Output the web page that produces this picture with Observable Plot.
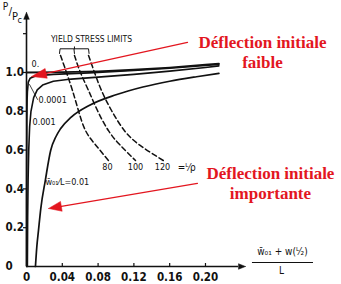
<!DOCTYPE html>
<html>
<head>
<meta charset="utf-8">
<script src="https://cdn.jsdelivr.net/npm/d3@7"></script>
<script src="https://cdn.jsdelivr.net/npm/@observablehq/plot@0.6"></script>
<style>
  html, body { margin: 0; padding: 0; background: #fff; }
</style>
</head>
<body>
<div id="chart"></div>
<script>
// Load ratio P/Pc against total mid-span deflection (w01 + w(L/2)) / L
// for several initial imperfections w01/L, with yield-stress limits.

// initial imperfection w01/L = 0 (perfect column)
const imperf0 = [[0, 1.0], [0.04, 1.002], [0.08, 1.006], [0.12, 1.014], [0.16, 1.025], [0.2, 1.04], [0.215, 1.046]];
// w01/L = 0.0001
const imperf00001 = [[0.0001, 0], [0.00013, 0.3], [0.0002, 0.5], [0.0004, 0.75], [0.0007, 0.86], [0.001, 0.9], [0.002, 0.95], [0.004, 0.97], [0.01, 0.982], [0.03, 0.99], [0.07, 0.998], [0.12, 1.01], [0.16, 1.022], [0.2, 1.036], [0.215, 1.042]];
// w01/L = 0.001
const imperf0001 = [[0.001, 0], [0.0013, 0.25], [0.0018, 0.45], [0.0025, 0.6], [0.0035, 0.72], [0.005, 0.8], [0.008, 0.87], [0.012, 0.91], [0.018, 0.935], [0.03, 0.955], [0.05, 0.966], [0.08, 0.976], [0.12, 0.99], [0.16, 1.007], [0.2, 1.026], [0.215, 1.034]];
// w01/L = 0.01
const imperf001 = [[0.01, 0], [0.0115, 0.1], [0.0134, 0.186], [0.016, 0.3], [0.021, 0.443], [0.027, 0.598], [0.033, 0.67], [0.038, 0.71], [0.05, 0.77], [0.07, 0.83], [0.1, 0.885], [0.13, 0.925], [0.16, 0.955], [0.19, 0.978], [0.215, 0.995]];

// yield stress limits for slenderness L/rho = 80, 100, 120
const yield80 = [[0.038, 1.088], [0.0447, 1.0], [0.0514, 0.907], [0.058, 0.804], [0.066, 0.70], [0.0777, 0.624], [0.0916, 0.546]];
const yield100 = [[0.0536, 1.088], [0.0603, 1.0], [0.0693, 0.907], [0.0793, 0.804], [0.0916, 0.70], [0.105, 0.624], [0.1218, 0.546]];
const yield120 = [[0.0693, 1.088], [0.076, 1.0], [0.0838, 0.907], [0.095, 0.804], [0.1095, 0.70], [0.127, 0.624], [0.153, 0.546]];
const slenderness = ["80", "100", "120"];
const slendernessLabelAt = [[0.0905, 0.51], [0.1218, 0.51], [0.152, 0.51]];

// ticks
const xTicks = [0, 0.04, 0.08, 0.12, 0.16, 0.20];
const xTickLabels = ["0", "0.04", "0.08", "0.12", "0.16", "0.20"];
const yTicks = [0, 0.2, 0.4, 0.6, 0.8, 1.0];
const yTickLabels = ["0", "0.2", "0.4", "0.6", "0.8", "1.0"];
const yTickMarks = [0.2, 0.4, 0.6, 0.8, 1.0, 1.2];

// scale extents
const xMax = 0.352, yMax = 1.371;
const xAxisEnd = 0.2447, yAxisEnd = 1.31;

// annotation arrows: [tail, tip]
const arrowFaible = [[0.1799, 1.1546], [0.0056, 0.979]];
const arrowImportante = [[0.191, 0.428], [0.0246, 0.299]];
const textFaible = [["Déflection initiale", 0.2637, 1.1546], ["faible", 0.2637, 1.0515]];
const textImportante = [["Déflection initiale", 0.2726, 0.479], ["importante", 0.2726, 0.376]];

const W = 341, H = 284, mL = 26, mR = 0, mT = 0, mB = 18;
const red = "#e3161f";
const ink = "#111";

// pixel-space helpers for building arrowheads in data units
const sx = d3.scaleLinear([0, xMax], [mL, W - mR]);
const sy = d3.scaleLinear([0, yMax], [H - mB, mT]);
function arrowHead(tail, tip, len, half) {
  const x0 = sx(tail[0]), y0 = sy(tail[1]), x1 = sx(tip[0]), y1 = sy(tip[1]);
  const d = Math.hypot(x1 - x0, y1 - y0), ux = (x1 - x0) / d, uy = (y1 - y0) / d;
  const bx = x1 - ux * len, by = y1 - uy * len;
  const pts = [[x1, y1], [bx - uy * half, by + ux * half], [bx + uy * half, by - ux * half], [x1, y1]];
  return {
    head: pts.map(([px, py]) => [sx.invert(px), sy.invert(py)]),
    base: [sx.invert(bx), sy.invert(by)]
  };
}
const headF = arrowHead(arrowFaible[0], arrowFaible[1], 15, 5);
const headI = arrowHead(arrowImportante[0], arrowImportante[1], 13, 5);
const headY = arrowHead([0, 0], [0, yAxisEnd], 7, 2.8);
const headX = arrowHead([0, 0], [xAxisEnd, 0], 7, 2.8);

const dx3 = 3 / (sx(1) - sx(0));   // 3px in x data units
const dy3 = 3 / (sy(0) - sy(1));   // 3px in y data units

const tickFont = "DejaVu Sans Condensed, Liberation Sans Narrow, DejaVu Sans, sans-serif";
const lbl = {fontFamily: tickFont, fill: ink};
const tickLbl = {fontFamily: tickFont, fill: ink, fontWeight: "bold", fontSize: 11.5};

const chart = Plot.plot({
  width: W, height: H,
  marginLeft: mL, marginRight: mR, marginTop: mT, marginBottom: mB,
  x: {domain: [0, xMax], axis: null},
  y: {domain: [0, yMax], axis: null},
  style: {background: "#fff", fontFamily: "DejaVu Sans, sans-serif"},
  marks: [
    // axes
    Plot.ruleX([0], {y1: 0, y2: headY.base[1], stroke: ink, strokeWidth: 1.6}),
    Plot.line(headY.head, {fill: ink, stroke: ink, strokeWidth: 0.5}),
    Plot.ruleY([0], {x1: 0, x2: headX.base[0], stroke: ink, strokeWidth: 1.6}),
    Plot.line(headX.head, {fill: ink, stroke: ink, strokeWidth: 0.5}),
    Plot.ruleY(yTickMarks, {x1: -dx3, x2: 0, stroke: ink, strokeWidth: 1.2}),
    Plot.ruleX(xTicks.slice(1), {y1: 0, y2: dy3, stroke: ink, strokeWidth: 1.2}),
    Plot.text(xTicks, {x: d => d, y: 0, dy: 11, text: (d, i) => xTickLabels[i], ...tickLbl}),
    Plot.text(yTicks, {x: 0, y: d => d, dx: -21, text: (d, i) => yTickLabels[i], textAnchor: "start", ...tickLbl}),

    // P/Pc
    Plot.text(["P"], {x: -0.0235, y: 1.34, fontSize: 10, ...lbl}),
    Plot.text(["/"], {x: -0.018, y: 1.315, fontSize: 11, ...lbl}),
    Plot.text(["P"], {x: -0.0128, y: 1.29, fontSize: 11, ...lbl}),
    Plot.text(["c"], {x: -0.0075, y: 1.27, fontSize: 9, ...lbl}),

    // x-axis quantity
    Plot.text(["w̄₀₁ + w(ᴸ⁄₂)"], {x: 0.286, y: 0.074, fontSize: 10, ...lbl}),
    Plot.ruleY([0.0206], {x1: 0.2525, x2: 0.3207, stroke: ink, strokeWidth: 1}),
    Plot.text(["L"], {x: 0.285, y: -0.022, fontSize: 10, ...lbl}),

    // load–deflection curves
    Plot.line(imperf0, {stroke: ink, strokeWidth: 1.8}),
    Plot.line(imperf00001, {stroke: ink, strokeWidth: 1.6}),
    Plot.line(imperf0001, {stroke: ink, strokeWidth: 1.6}),
    Plot.line(imperf001, {stroke: ink, strokeWidth: 1.7, curve: "monotone-x"}),

    // curve labels
    Plot.text(["0."], {x: 0.0056, y: 1.041, textAnchor: "start", fontSize: 9, ...lbl}),
    Plot.line([[0.0034, 0.938], [0.0123, 0.861]], {stroke: ink, strokeWidth: 0.8}),
    Plot.text(["0.0001"], {x: 0.0134, y: 0.856, textAnchor: "start", fontSize: 9, ...lbl}),
    Plot.text(["0.001"], {x: 0.0067, y: 0.742, textAnchor: "start", fontSize: 9, ...lbl}),
    Plot.text(["w̄₀₁⁄L=0.01"], {x: 0.0212, y: 0.433, textAnchor: "start", fontSize: 9, ...lbl}),

    // yield stress limits
    Plot.line(yield80, {stroke: ink, strokeWidth: 1.5, strokeDasharray: "5,3", curve: "natural"}),
    Plot.line(yield100, {stroke: ink, strokeWidth: 1.5, strokeDasharray: "5,3", curve: "natural"}),
    Plot.line(yield120, {stroke: ink, strokeWidth: 1.5, strokeDasharray: "5,3", curve: "natural"}),
    Plot.text(slenderness, {x: (d, i) => slendernessLabelAt[i][0], y: (d, i) => slendernessLabelAt[i][1], fontSize: 9, ...lbl}),
    Plot.text(["=ᴸ⁄ρ"], {x: 0.179, y: 0.51, fontSize: 10, ...lbl}),
    Plot.text(["YIELD STRESS LIMITS"], {x: 0.0726, y: 1.17, fontSize: 8.5, ...lbl}),
    Plot.line([[0.0369, 1.098], [0.0375, 1.122], [0.053, 1.122], [0.0536, 1.098]], {stroke: ink, strokeWidth: 1}),
    Plot.line([[0.0536, 1.122], [0.0693, 1.122], [0.0699, 1.098]], {stroke: ink, strokeWidth: 1}),
    Plot.line([[0.0536, 1.122], [0.0536, 1.132]], {stroke: ink, strokeWidth: 1}),

    // red annotations
    Plot.line([arrowFaible[0], headF.base], {stroke: red, strokeWidth: 1.3}),
    Plot.line(headF.head, {fill: red, stroke: red, strokeWidth: 0.5}),
    Plot.line([arrowImportante[0], headI.base], {stroke: red, strokeWidth: 1.3}),
    Plot.line(headI.head, {fill: red, stroke: red, strokeWidth: 0.5}),
    Plot.text(textFaible, {x: d => d[1], y: d => d[2], text: d => d[0], fill: red, fontSize: 17, fontWeight: "bold", fontFamily: "Liberation Serif, serif"}),
    Plot.text(textImportante, {x: d => d[1], y: d => d[2], text: d => d[0], fill: red, fontSize: 17, fontWeight: "bold", fontFamily: "Liberation Serif, serif"})
  ]
});
document.getElementById("chart").append(chart);
</script>
</body>
</html>
